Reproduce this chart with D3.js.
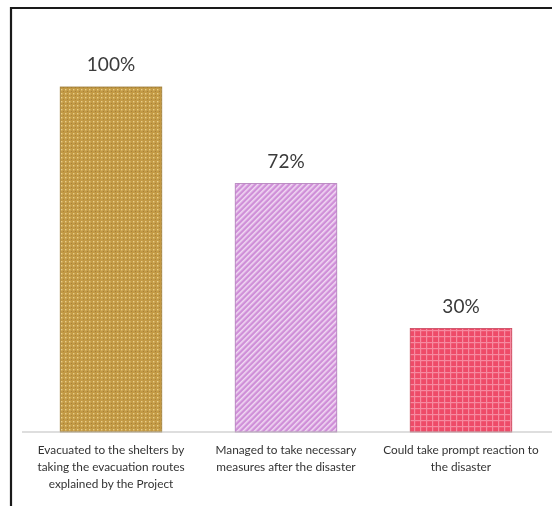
<!DOCTYPE html>
<html>
<head>
<meta charset="utf-8">
<script src="https://cdn.jsdelivr.net/npm/d3@7"></script>
<style>
  html, body { margin: 0; padding: 0; background: #fff; }
  svg { display: block; }
</style>
</head>
<body>
<svg id="chart" width="552" height="506"></svg>
<script>
// Share of respondents per outcome (percent)
const categories = [
  "Evacuated to the shelters by|taking the evacuation routes|explained by the Project",
  "Managed to take necessary|measures after the disaster",
  "Could take prompt reaction to|the disaster"
];
const values = [100, 72, 30];
const valueLabels = ["100%", "72%", "30%"];

const W = 552, H = 506;
const svg = d3.select("#chart");

// Pattern fills for each bar
const defs = svg.append("defs");

// dotted gold
const p1 = defs.append("pattern").attr("id", "pat0")
  .attr("patternUnits", "userSpaceOnUse").attr("width", 4).attr("height", 4);
p1.append("rect").attr("width", 4).attr("height", 4).attr("fill", "#c39a44");
p1.append("rect").attr("x", 1).attr("y", 1).attr("width", 1.4).attr("height", 1.4).attr("fill", "#e9cf8a");
p1.append("rect").attr("x", 3).attr("y", 3).attr("width", 1).attr("height", 1).attr("fill", "#a8823a");

// diagonal-striped lilac
const p2 = defs.append("pattern").attr("id", "pat1")
  .attr("patternUnits", "userSpaceOnUse").attr("width", 4).attr("height", 4)
  .attr("patternTransform", "rotate(45)");
p2.append("rect").attr("width", 4).attr("height", 4).attr("fill", "#cf8fd8");
p2.append("rect").attr("width", 1.6).attr("height", 4).attr("fill", "#f1d9f3");

// gridded red
const p3 = defs.append("pattern").attr("id", "pat2")
  .attr("patternUnits", "userSpaceOnUse").attr("width", 6).attr("height", 6);
p3.append("rect").attr("width", 6).attr("height", 6).attr("fill", "#ee4c68");
p3.append("rect").attr("x", 0).attr("y", 0).attr("width", 1.2).attr("height", 6).attr("fill", "#f68aa0");
p3.append("rect").attr("x", 0).attr("y", 0).attr("width", 6).attr("height", 1.2).attr("fill", "#f68aa0");

const blur = defs.append("filter").attr("id", "soft");
blur.append("feGaussianBlur").attr("stdDeviation", 0.45);

// Frame
svg.append("path")
  .attr("d", `M11,${H} L11,8 L${W},8`)
  .attr("fill", "none").attr("stroke", "#1a1a1a").attr("stroke-width", 2.2);

const x = d3.scaleBand()
  .domain(categories)
  .range([23.5, 548.5])
  .paddingInner(0.42)
  .paddingOuter(0.21);

const y = d3.scaleLinear().domain([0, 100]).range([432, 87]);

const g = svg.append("g").attr("filter", "url(#soft)");

// Bars
g.selectAll("rect.bar")
  .data(values)
  .join("rect")
  .attr("class", "bar")
  .attr("x", (d, i) => x(categories[i]))
  .attr("y", d => y(d))
  .attr("width", x.bandwidth())
  .attr("height", d => y(0) - y(d))
  .attr("fill", (d, i) => `url(#pat${i})`)
  .attr("stroke", (d, i) => ["#9c7a35", "#b07ab8", "#c8485e"][i])
  .attr("stroke-width", 0.8);

// Category axis baseline
g.append("line")
  .attr("x1", 22).attr("x2", W)
  .attr("y1", y(0)).attr("y2", y(0))
  .attr("stroke", "#bdbdbd").attr("stroke-width", 1.2);

// Value labels
g.selectAll("text.val")
  .data(values)
  .join("text")
  .attr("class", "val")
  .attr("x", (d, i) => x(categories[i]) + x.bandwidth() / 2)
  .attr("y", d => y(d) - 16)
  .attr("text-anchor", "middle")
  .attr("font-family", "Lato, sans-serif")
  .attr("font-size", 19)
  .attr("fill", "#3a3a3a")
  .text((d, i) => valueLabels[i]);

// Category labels (multi-line)
categories.forEach((c, i) => {
  const lines = c.split("|");
  const t = g.append("text")
    .attr("x", x(c) + x.bandwidth() / 2)
    .attr("y", 454)
    .attr("text-anchor", "middle")
    .attr("font-family", "Lato, sans-serif")
    .attr("font-size", 11.8)
    .attr("fill", "#333");
  lines.forEach((ln, k) => {
    t.append("tspan")
      .attr("x", x(c) + x.bandwidth() / 2)
      .attr("dy", k === 0 ? 0 : 17)
      .text(ln);
  });
});
</script>
</body>
</html>
